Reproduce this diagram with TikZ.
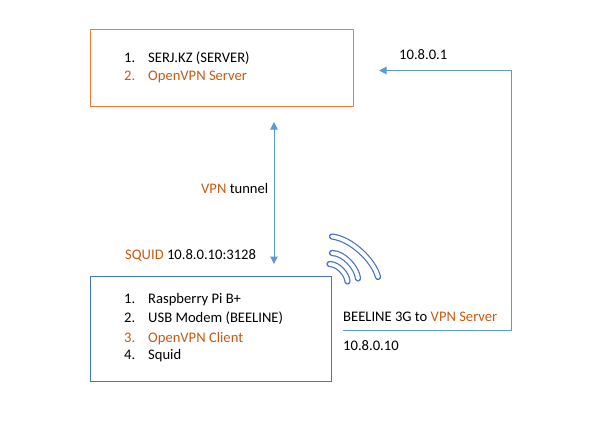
\documentclass[tikz,border=0pt]{standalone}
\usepackage{fontspec}
\setmainfont{Carlito}
\usetikzlibrary{arrows.meta}
\definecolor{boxorange}{HTML}{ED7D31}
\definecolor{boxblue}{HTML}{4472C4}
\definecolor{linkblue}{HTML}{5B9BD5}
\definecolor{txtorange}{HTML}{C55A11}
\tikzset{
  label/.style={anchor=base west, inner sep=0pt, font=\fontsize{14.6}{17}\selectfont},
  hot/.style={label, text=txtorange},
  link/.style={draw=linkblue, line width=1pt, >={Triangle[length=7.5pt,width=7.5pt]}},
  wave/.style={draw=boxblue, line width=1.2pt, double=white, double distance=3.8pt, line cap=round}
}
\newcommand{\hi}[1]{\textcolor{txtorange}{#1}}
\begin{document}
\begin{tikzpicture}[x=1pt, y=-1pt]
  \useasboundingbox (0,0) rectangle (590,424);
  \def\numx{124}
  \def\itemx{148}
  % boxes
  \node [draw=boxorange, line width=1pt, minimum width=263pt, minimum height=77pt, inner sep=0pt] (serverbox) at (221.8,67.8) {};
  \node [draw=boxblue, line width=1pt, minimum width=241pt, minimum height=104.6pt, inner sep=0pt] (clientbox) at (210.8,329) {};
  % server list
  \node [label] (servernumA) at (\numx,62) {1.};
  \node [label] (serveritemA) at (\itemx,62) {SERJ.KZ (SERVER)};
  \node [hot] (servernumB) at (\numx,80) {2.};
  \node [hot] (serveritemB) at (\itemx,80) {OpenVPN Server};
  % client list
  \node [label] (clientnumA) at (\numx,303) {1.};
  \node [label] (clientitemA) at (\itemx,303) {Raspberry Pi B+};
  \node [label] (clientnumB) at (\numx,322) {2.};
  \node [label] (clientitemB) at (\itemx,322) {USB Modem (BEELINE)};
  \node [hot] (clientnumC) at (\numx,342) {3.};
  \node [hot] (clientitemC) at (\itemx,342) {OpenVPN Client};
  \node [label] (clientnumD) at (\numx,359) {4.};
  \node [label] (clientitemD) at (\itemx,359) {Squid};
  % free labels
  \node [label] (tunnellabel) at (201,193) {\hi{VPN} tunnel};
  \node [label] (squidlabel) at (125,259) {\hi{SQUID} 10.8.0.10:3128};
  \node [label] (serverip) at (399,59) {10.8.0.1};
  \node [label] (beelinelabel) at (343,321) {BEELINE 3G to \hi{VPN Server}};
  \node [label] (clientip) at (343,350) {10.8.0.10};
  % links
  \coordinate (tunneltop) at (274,122);
  \coordinate (tunnelbottom) at (274,264);
  \coordinate (uplinkstart) at (343,330.5);
  \coordinate (uplinkcornerA) at (511.5,330.5);
  \coordinate (uplinkcornerB) at (511.5,70.5);
  \coordinate (uplinkend) at (379,70.5);
  \draw [link, <->] (tunneltop) -- (tunnelbottom);
  \draw [link, ->] (uplinkstart) -- (uplinkcornerA) -- (uplinkcornerB) -- (uplinkend);
  % radio waves
  \draw [wave] (332,236.5) .. controls (352,239) and (374,261) .. (378,277);
  \draw [wave] (332,253) .. controls (344,253) and (357,268) .. (358,278.5);
  \draw [wave] (329.5,264) .. controls (338,264) and (347,274) .. (347.5,281.5);
\end{tikzpicture}
\end{document}
